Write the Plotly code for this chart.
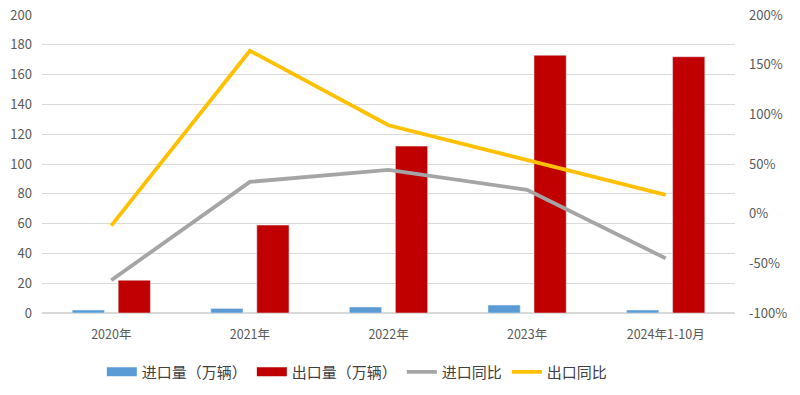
import plotly.graph_objects as go

categories = ["2020年", "2021年", "2022年", "2023年", "2024年1-10月"]
import_vol = [2, 3, 4, 5.3, 2]
export_vol = [22, 59, 112, 173, 172]
import_yoy = [-67, 32, 44, 24, -45]
export_yoy = [-12, 164, 89, 54, 19]

left_ticks = list(range(0, 201, 20))
right_ticks = list(range(-100, 201, 50))
right_labels = [f"{v}%" for v in right_ticks]

font = "Noto Sans CJK SC, Microsoft YaHei, sans-serif"
c_imp, c_exp, c_impy, c_expy = "#5B9BD5", "#C00000", "#A5A5A5", "#FFC000"

fig = go.Figure()
fig.add_trace(go.Bar(x=categories, y=import_vol, name="进口量（万辆）", marker_color=c_imp, showlegend=False))
fig.add_trace(go.Bar(x=categories, y=export_vol, name="出口量（万辆）", marker_color=c_exp, showlegend=False))
fig.add_trace(go.Scatter(x=categories, y=import_yoy, name="进口同比", mode="lines",
                         line=dict(color=c_impy, width=3.8), yaxis="y2", showlegend=False))
fig.add_trace(go.Scatter(x=categories, y=export_yoy, name="出口同比", mode="lines",
                         line=dict(color=c_expy, width=3.8), yaxis="y2", showlegend=False))

# legend entries (wide swatches like the reference)
for name, color, w in [("进口量（万辆）", c_imp, 9), ("出口量（万辆）", c_exp, 9),
                       ("进口同比", c_impy, 3.8), ("出口同比", c_expy, 3.8)]:
    fig.add_trace(go.Scatter(x=[None], y=[None], name=name, mode="lines",
                             line=dict(color=color, width=w), showlegend=True))

fig.update_layout(
    width=800, height=395,
    margin=dict(l=42, r=65, t=15, b=82, autoexpand=False),
    paper_bgcolor="white", plot_bgcolor="white",
    font=dict(family=font, size=13, color="#595959"),
    barmode="group", bargap=0.336, bargroupgap=0.3,
    showlegend=True,
    legend=dict(orientation="h", x=0.455, xanchor="center", yref="container", y=0.058, yanchor="middle",
                font=dict(size=15, color="#404040"), itemwidth=30, traceorder="normal"),
    xaxis=dict(showgrid=False, showline=False, ticks="", tickfont=dict(size=12.5),
               ticklabelstandoff=12, automargin=False),
    yaxis=dict(range=[0, 200], tickvals=left_ticks, showgrid=True, gridcolor="#D9D9D9",
               gridwidth=1, zeroline=True, zerolinecolor="#D9D9D9", ticks="",
               tickfont=dict(size=13), automargin=False, ticklabelstandoff=9),
    yaxis2=dict(range=[-100, 200], tickvals=right_ticks, ticktext=right_labels,
                overlaying="y", side="right", showgrid=False, zeroline=False,
                ticks="", tickfont=dict(size=13), automargin=False, ticklabelstandoff=13),
)

fig.write_html("out.html", config={"displayModeBar": False},
               post_script="document.body.style.margin='0';document.body.style.padding='0';")
